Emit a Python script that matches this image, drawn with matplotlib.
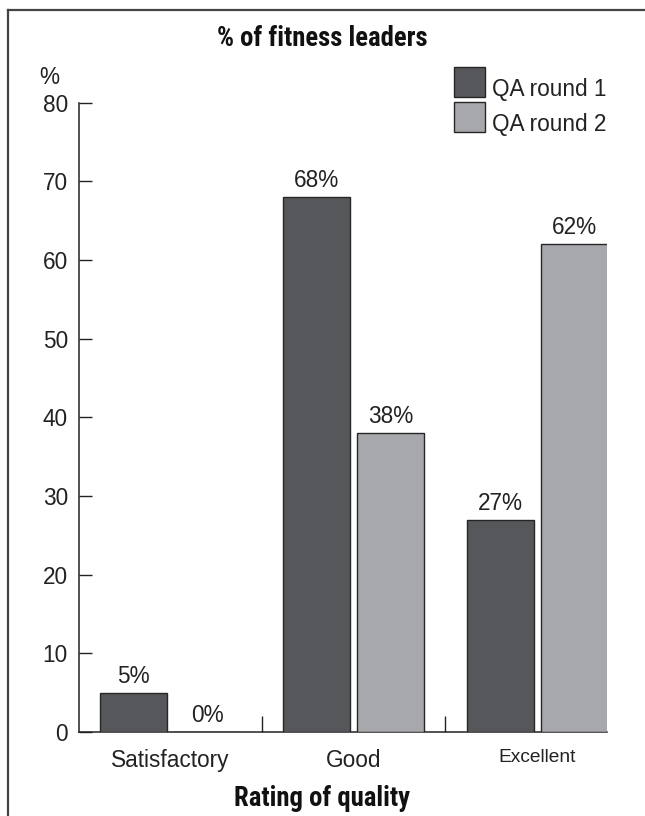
import matplotlib
matplotlib.use("Agg")
import matplotlib.pyplot as plt
from matplotlib import font_manager
from matplotlib.font_manager import FontProperties
from matplotlib.lines import Line2D
from matplotlib.patches import Rectangle
import numpy as np

# Data
categories = ["Satisfactory", "Good", "Excellent"]
round1 = [5, 68, 27]
round2 = [0, 38, 62]
series_names = ["QA round 1", "QA round 2"]
yticks = [0, 10, 20, 30, 40, 50, 60, 70, 80]

DARK = "#55575a"
LIGHT = "#a7a8ab"
EDGE = "#262626"
INK = "#222222"

installed = {f.name for f in font_manager.fontManager.ttflist}
BODY = "Liberation Sans" if "Liberation Sans" in installed else "DejaVu Sans"
plt.rcParams["font.family"] = [BODY, "DejaVu Sans"]


def heading_font(size):
    """Pick the narrowest condensed bold face available for the headings."""
    wanted = ["LiberationSansNarrow-Bold", "RobotoCondensed-Bold",
              "OpenSans-CondBold", "OpenSansCondensed-Bold",
              "OpenSans_Condensed-Bold", "DejaVuSansCondensed-Bold"]
    files = [f.fname for f in font_manager.fontManager.ttflist]
    for key in wanted:
        for fn in files:
            if key.lower() in fn.replace(" ", "").lower():
                return FontProperties(fname=fn, size=size)
    for fn in files:
        low = fn.lower()
        if ("narrow" in low or "condensed" in low) and "bold" in low and "italic" not in low \
                and "oblique" not in low:
            return FontProperties(fname=fn, size=size)
    return FontProperties(family=BODY, weight="bold", stretch="condensed", size=size)


W, H = 645, 816
fig = plt.figure(figsize=(W / 100, H / 100), dpi=100)


def fx(px):
    return px / W


def fy(py):
    return 1 - py / H


# axes box in pixel terms
left_px, right_px, bottom_px, top_px = 79, 607, 732, 102.5
ax = fig.add_axes([fx(left_px), fy(bottom_px),
                   (right_px - left_px) / W, (bottom_px - top_px) / H])

x = np.arange(len(categories))
bw = 0.365
gap = 0.038
off = (bw + gap) / 2
b1 = ax.bar(x - off, round1, bw, color=DARK, edgecolor=EDGE, linewidth=1.0, zorder=3)
b2 = ax.bar(x + off, round2, bw, color=LIGHT, edgecolor=EDGE, linewidth=1.0, zorder=3)

FS = 16.3
for bars, vals in ((b1, round1), (b2, round2)):
    for rect, v in zip(bars, vals):
        ax.text(rect.get_x() + rect.get_width() / 2, v + 0.6, f"{v}%",
                ha="center", va="bottom", fontsize=FS, color=INK)

ax.set_ylim(0, 80)
ax.set_xlim(-0.496, 2.381)
ax.set_yticks(yticks)
ax.tick_params(axis="y", direction="in", length=9.5, width=1.0, pad=8,
               labelsize=FS, colors=INK)

ax.set_xticks(x)
ax.set_xticklabels(categories)
ax.tick_params(axis="x", which="major", length=0, pad=12, labelsize=FS, colors=INK)
ax.set_xticks([0.5, 1.5], minor=True)
ax.tick_params(axis="x", which="minor", direction="in", length=11.5, width=1.0,
               color=INK)
ax.get_xticklabels()[2].set_fontsize(13.8)

for s in ("top", "right"):
    ax.spines[s].set_visible(False)
for s in ("left", "bottom"):
    ax.spines[s].set_linewidth(1.1)
    ax.spines[s].set_color(INK)

# unit marker above the value axis
fig.text(fx(49), fy(77), "%", ha="center", va="center", fontsize=FS, color=INK)

# headings: size the condensed face so the title spans about 210 px
hp = heading_font(20)
title = fig.text(fx(322), fy(38), "% of fitness leaders", ha="center", va="center",
                 fontproperties=hp, color="#111111")
renderer = fig.canvas.get_renderer()
width_px = title.get_window_extent(renderer).width
size = min(20.0, 20.0 * 210.0 / width_px)
title.set_fontsize(size)
xlab = fig.text(fx(322), fy(798), "Rating of quality", ha="center", va="center",
                fontproperties=hp, color="#111111")
xlab.set_fontsize(size)

# key
for i, (name, col) in enumerate(zip(series_names, (DARK, LIGHT))):
    top = 67 + 35 * i
    fig.add_artist(Rectangle((fx(454), fy(top + 30)), 31 / W, 30 / H,
                             transform=fig.transFigure, facecolor=col,
                             edgecolor=EDGE, linewidth=1.0))
    fig.text(fx(492), fy(top + 29), name, ha="left", va="baseline",
             fontsize=FS, color=INK)

# outer frame
fig.add_artist(Line2D([fx(8), fx(8)], [0, fy(10)], transform=fig.transFigure,
                      color="#444444", linewidth=1.6))
fig.add_artist(Line2D([fx(8), 1], [fy(10), fy(10)], transform=fig.transFigure,
                      color="#444444", linewidth=1.6))

fig.savefig("out.png", dpi=100)
